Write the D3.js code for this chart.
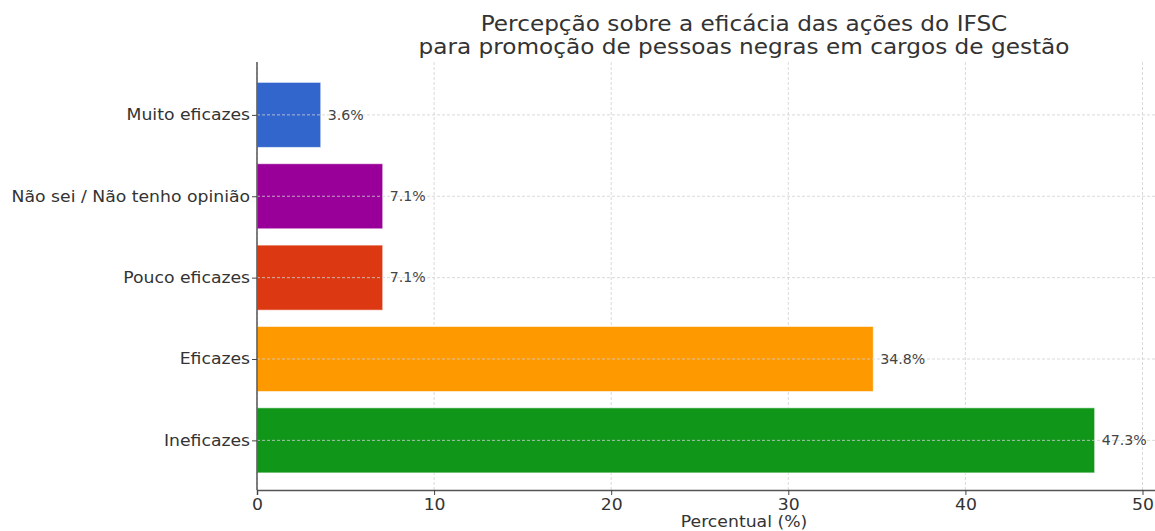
<!DOCTYPE html>
<html>
<head>
<meta charset="utf-8">
<script src="https://cdn.jsdelivr.net/npm/d3@7"></script>
<style>
  html, body { margin: 0; padding: 0; background: #fff; }
  svg { display: block; font-family: "DejaVu Sans", sans-serif; }
  .grid line { stroke: #cfcfcf; stroke-dasharray: 3,2; stroke-width: 0.8; }
</style>
</head>
<body>
<div id="chart"></div>
<script>
// data (bottom to top, as drawn)
const categories = ["Ineficazes", "Eficazes", "Pouco eficazes", "Não sei / Não tenho opinião", "Muito eficazes"];
const values = [47.3, 34.8, 7.1, 7.1, 3.6];
const colors = ["#109618", "#ff9900", "#dc3912", "#990099", "#3366cc"];
const xTicks = [0, 10, 20, 30, 40, 50];

const width = 1155, height = 531;
const plotLeft = 257, plotBottom = 490, plotTop = 62;
// the source picture is a bit stretched sideways
const stretch = 1.15;

const svg = d3.select("#chart").append("svg")
    .attr("width", width)
    .attr("height", height);

// the figure is cropped on the right, so the axis runs past the window
const x = d3.scaleLinear().domain([0, 55]).range([plotLeft, plotLeft + 55 * 17.71]);
const y = d3.scaleLinear().domain([-0.61, categories.length - 0.35]).range([plotBottom, plotTop]);
const barH = 0.8 * (y(0) - y(1));

// grid
const grid = svg.append("g").attr("class", "grid");
grid.selectAll("line").data(xTicks).enter().append("line")
    .attr("x1", d => x(d)).attr("x2", d => x(d))
    .attr("y1", plotTop).attr("y2", plotBottom);

// bars
svg.append("g").selectAll("rect").data(values).enter().append("rect")
    .attr("x", x(0))
    .attr("y", (d, i) => y(i) - barH / 2)
    .attr("width", d => x(d) - x(0))
    .attr("height", barH)
    .attr("fill", (d, i) => colors[i])
    .attr("stroke", "#ffffff")
    .attr("stroke-opacity", 0.6)
    .attr("stroke-width", 1);

// horizontal grid drawn on top of bars
const grid2 = svg.append("g").attr("class", "grid");
grid2.selectAll("line").data(categories).enter().append("line")
    .attr("x1", plotLeft).attr("x2", width)
    .attr("y1", (d, i) => y(i)).attr("y2", (d, i) => y(i));

// value labels
svg.append("g").selectAll("text").data(values).enter().append("text")
    .attr("transform", (d, i) => `translate(${x(d) + 7},${y(i)}) scale(1.05,1)`)
    .attr("dy", "0.35em")
    .attr("font-size", 13.5)
    .attr("fill", "#444")
    .text(d => d.toFixed(1) + "%");

// axes
const xAxis = svg.append("g")
    .attr("transform", `translate(0,${plotBottom})`)
    .call(d3.axisBottom(x).tickValues(xTicks).tickSize(5).tickPadding(4));
xAxis.select(".domain").attr("stroke", "#555").attr("stroke-width", 1.5);
xAxis.selectAll(".tick line").attr("stroke", "#444");
xAxis.selectAll("text").attr("font-size", 15).attr("fill", "#333")
    .attr("font-family", "DejaVu Sans").attr("transform", `scale(${stretch},1)`);

const yAxis = svg.append("g")
    .attr("transform", `translate(${plotLeft},0)`)
    .call(d3.axisLeft(y).tickValues(d3.range(categories.length))
        .tickFormat(i => categories[i]).tickSize(5).tickPadding(1));
yAxis.select(".domain").attr("d", `M0,${plotTop}V${plotBottom}`).attr("stroke", "#555").attr("stroke-width", 1.5);
yAxis.selectAll(".tick line").attr("stroke", "#444");
yAxis.selectAll("text").attr("font-size", 15).attr("fill", "#333")
    .attr("font-family", "DejaVu Sans").attr("transform", `scale(${stretch},1)`);

// axis label
svg.append("text")
    .attr("transform", `translate(744,527) scale(${stretch},1)`)
    .attr("text-anchor", "middle")
    .attr("font-size", 15).attr("fill", "#333")
    .text("Percentual (%)");

// title
const title = svg.append("text")
    .attr("transform", "translate(744,0) scale(1.105,1)")
    .attr("text-anchor", "middle")
    .attr("font-size", 21).attr("fill", "#333");
title.append("tspan").attr("x", 0).attr("y", 31).text("Percepção sobre a eficácia das ações do IFSC");
title.append("tspan").attr("x", 0).attr("y", 54).text("para promoção de pessoas negras em cargos de gestão");
</script>
</body>
</html>
